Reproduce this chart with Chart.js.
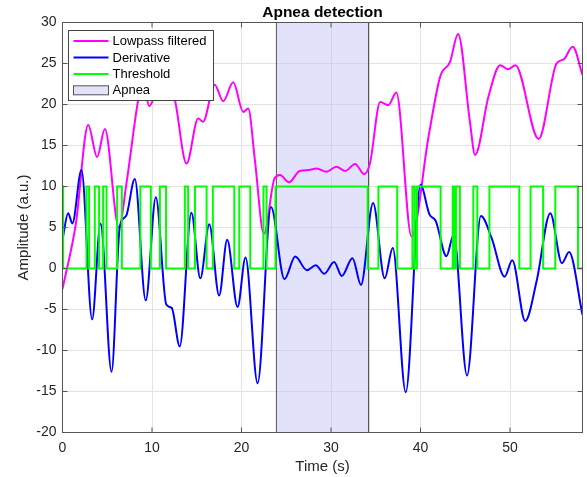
<!DOCTYPE html>
<html>
<head>
<meta charset="utf-8">
<script src="https://cdn.jsdelivr.net/npm/chart.js@4.4.0/dist/chart.umd.min.js"></script>
<style>
  html, body { margin: 0; padding: 0; background: #fff; }
  #grafica { display: block; }
</style>
</head>
<body>
<canvas id="grafica" width="587" height="477"></canvas>
<script>
// === Datos ===
const lowpassT = [0, 1.5, 2.87, 3.87, 4.73, 6.3, 7.15, 8.45, 9.0, 9.68,
  10.3, 11.4, 12.55, 13.86, 15.16, 15.7, 17.0, 17.96, 19.07, 20.2,
  20.75, 21.5, 22.5, 23.7, 24.3, 25.3, 26.5, 27.5, 28.4, 29.5,
  30.6, 31.6, 32.7, 33.7, 34.35, 35.5, 36.4, 37.3, 39.0, 40.9,
  42.2, 43.3, 44.2, 45.5, 46.1, 47.6, 48.9, 49.8, 50.6, 53.2,
  55.2, 56.0, 57.0, 58.1];
const lowpassV = [-2.5, 5.5, 17.5, 13.6, 17.0, 5.0, 10.4, 20.5, 23.0, 19.8,
  21.0, 24.0, 20.6, 12.8, 18.3, 17.9, 22.4, 20.4, 22.7, 19.1,
  19.5, 13.2, 4.2, 11.0, 11.4, 10.5, 11.9, 12.0, 12.2, 11.8,
  12.4, 11.9, 12.75, 11.5, 12.8, 20.3, 19.9, 21.45, 3.9, 16.1,
  23.4, 25.2, 28.6, 18.1, 13.85, 21.0, 24.8, 24.3, 24.8, 15.8,
  25.0, 25.5, 27.05, 23.6];

const derivT = [0, 0.63, 1.1, 2.12, 3.31, 4.25, 5.48, 6.4, 7.1, 8.08,
  9.3, 10.43, 11.6, 12.2, 13.1, 14.4, 15.4, 16.4, 17.5, 18.4,
  19.56, 20.45, 21.8, 23.3, 24.8, 26.0, 27.3, 28.3, 29.25, 30.35,
  31.2, 32.4, 33.35, 34.7, 36.0, 36.9, 38.35, 40.0, 41.0, 41.7,
  42.9, 43.7, 45.2, 46.75, 47.95, 49.4, 50.25, 51.7, 53.0, 54.5,
  55.8, 56.6, 58.1];
const derivV = [3.5, 6.75, 5.5, 12.0, -6.2, 5.5, -12.6, 5.1, 6.4, 10.9,
  -3.9, 8.7, -4.4, -4.8, -9.5, 6.8, -1.2, 5.4, -3.3, 3.5,
  -4.7, 1.33, -14.0, 7.5, -1.3, 1.45, -0.2, 0.4, -0.65, 0.8,
  -0.9, 1.25, -2.0, 8.0, -1.2, 2.5, -15.1, 10.2, 6.6, 5.8,
  1.5, 4.1, -13.05, 6.4, 3.7, -1.0, 1.0, -6.4, -1.4, 6.75,
  0.65, 2.0, -5.65];

// umbral: cada valor se mantiene hasta el siguiente tiempo
const umbralT = [0, 0.07, 2.68, 2.97, 3.61, 4.09, 4.54, 4.92, 6.10, 6.63,
  8.7, 9.87, 10.88, 11.57, 13.67, 14.04, 14.8, 16.1, 16.8, 19.2,
  19.75, 20.98, 22.45, 22.8, 23.8, 34.1, 35.3, 37.4, 39.1, 39.35,
  39.6, 42.25, 43.6, 43.75, 43.96, 44.4, 45.9, 46.35, 47.7, 51.04,
  52.3, 53.7, 55.06, 57.6, 58.1];
const umbralV = [10, 0, 10, 0, 10, 0, 10, 0, 10, 0,
  10, 0, 10, 0, 10, 0, 10, 0, 10, 0,
  10, 0, 10, 0, 10, 0, 10, 0, 10, 0,
  10, 0, 10, 0, 10, 0, 10, 0, 10, 0,
  10, 0, 10, 0, 0];

const apnea = [23.9, 34.2];
const rangoX = [0, 58.1];
const rangoY = [-20, 30];
const xTicks = [0, 10, 20, 30, 40, 50];
const yTicks = [-20, -15, -10, -5, 0, 5, 10, 15, 20, 25, 30];

const FUENTE = "'Liberation Sans', Helvetica, Arial, sans-serif";
const GRIS = '#262626';
const RELLENO_APNEA = 'rgba(190,190,245,0.45)';

const puntos = (ts, vs) => ts.map((t, i) => ({ x: t, y: vs[i] }));

// === Marco, marcas y leyenda dentro del área ===
const marcoYLeyenda = {
    id: 'marcoYLeyenda',
    afterDraw(chart) {
        const { ctx, chartArea: a, scales } = chart;
        ctx.save();
        ctx.strokeStyle = '#555';
        ctx.lineWidth = 1;
        ctx.beginPath();
        scales.x.ticks.forEach(t => {
            const px = scales.x.getPixelForValue(t.value);
            ctx.moveTo(px, a.bottom); ctx.lineTo(px, a.bottom - 5);
            ctx.moveTo(px, a.top); ctx.lineTo(px, a.top + 5);
        });
        scales.y.ticks.forEach(t => {
            const py = scales.y.getPixelForValue(t.value);
            ctx.moveTo(a.left, py); ctx.lineTo(a.left + 5, py);
            ctx.moveTo(a.right, py); ctx.lineTo(a.right - 5, py);
        });
        ctx.stroke();
        ctx.strokeRect(a.left, a.top, a.right - a.left, a.bottom - a.top);

        // leyenda
        const x0 = 68.5, y0 = 30.5, w = 145, h = 70;
        ctx.fillStyle = '#fff';
        ctx.fillRect(x0, y0, w, h);
        ctx.strokeStyle = '#444';
        ctx.strokeRect(x0, y0, w, h);
        ctx.font = '13px ' + FUENTE;
        ctx.textBaseline = 'middle';
        const filas = [41, 57.5, 74, 90.3];
        chart.data.datasets.forEach((ds, i) => {
            const y = filas[i];
            if (ds.fill) {
                ctx.fillStyle = '#fff';
                ctx.fillRect(73.5, y - 4.5, 35, 9);
                ctx.fillStyle = ds.backgroundColor;
                ctx.fillRect(73.5, y - 4.5, 35, 9);
                ctx.strokeStyle = '#555';
                ctx.lineWidth = 1;
                ctx.strokeRect(73.5, y - 4.5, 35, 9);
            } else {
                ctx.strokeStyle = ds.borderColor;
                ctx.lineWidth = 2;
                ctx.beginPath();
                ctx.moveTo(73.5, y); ctx.lineTo(108.5, y);
                ctx.stroke();
            }
            ctx.fillStyle = '#000';
            ctx.fillText(ds.label, 112.5, y + 0.5);
        });
        ctx.restore();
    }
};

new Chart(document.getElementById('grafica'), {
    type: 'line',
    data: {
        datasets: [
            {
                label: 'Lowpass filtered',
                data: puntos(lowpassT, lowpassV),
                borderColor: '#ff00ff',
                borderWidth: 2,
                cubicInterpolationMode: 'monotone',
                order: 3
            },
            {
                label: 'Derivative',
                data: puntos(derivT, derivV),
                borderColor: '#0000ff',
                borderWidth: 2,
                cubicInterpolationMode: 'monotone',
                order: 2
            },
            {
                label: 'Threshold',
                data: puntos(umbralT, umbralV),
                borderColor: '#00ff00',
                borderWidth: 2,
                stepped: true,
                order: 1
            },
            {
                label: 'Apnea',
                data: [
                    { x: apnea[0], y: rangoY[0] }, { x: apnea[0], y: rangoY[1] },
                    { x: apnea[1], y: rangoY[1] }, { x: apnea[1], y: rangoY[0] }
                ],
                borderColor: '#555',
                borderWidth: 1,
                backgroundColor: RELLENO_APNEA,
                fill: 'start',
                tension: 0,
                order: 4
            }
        ]
    },
    options: {
        responsive: false,
        animation: false,
        devicePixelRatio: 1,
        elements: { point: { radius: 0 } },
        layout: { padding: { left: 0, right: 4.5, top: 0, bottom: 0 } },
        plugins: {
            legend: { display: false },
            tooltip: { enabled: false },
            title: {
                display: true,
                text: 'Apnea detection',
                fullSize: false,
                color: '#000',
                font: { family: FUENTE, size: 15.5, weight: 'bold' },
                padding: { top: 3.5, bottom: 0.4 }
            }
        },
        scales: {
            x: {
                type: 'linear',
                min: rangoX[0],
                max: rangoX[1],
                afterFit: s => { s.height = 44.5; },
                afterBuildTicks: s => { s.ticks = xTicks.map(v => ({ value: v })); },
                grid: { color: '#e3e3e3', drawTicks: false },
                border: { display: false },
                ticks: {
                    color: GRIS, padding: 7, maxRotation: 0,
                    font: { family: FUENTE, size: 14 }
                },
                title: {
                    display: true, text: 'Time (s)', color: GRIS,
                    font: { family: FUENTE, size: 15 },
                    padding: { top: 0, bottom: 1.5 }
                }
            },
            y: {
                min: rangoY[0],
                max: rangoY[1],
                afterFit: s => { s.width = 62.5; },
                afterBuildTicks: s => { s.ticks = yTicks.map(v => ({ value: v })); },
                grid: { color: '#e3e3e3', drawTicks: false },
                border: { display: false },
                ticks: {
                    color: GRIS, padding: 6,
                    font: { family: FUENTE, size: 14 }
                },
                title: {
                    display: true, text: 'Amplitude (a.u.)', color: GRIS,
                    font: { family: FUENTE, size: 15 },
                    padding: { top: 15, bottom: 0 }
                }
            }
        }
    },
    plugins: [marcoYLeyenda]
});
</script>
</body>
</html>
